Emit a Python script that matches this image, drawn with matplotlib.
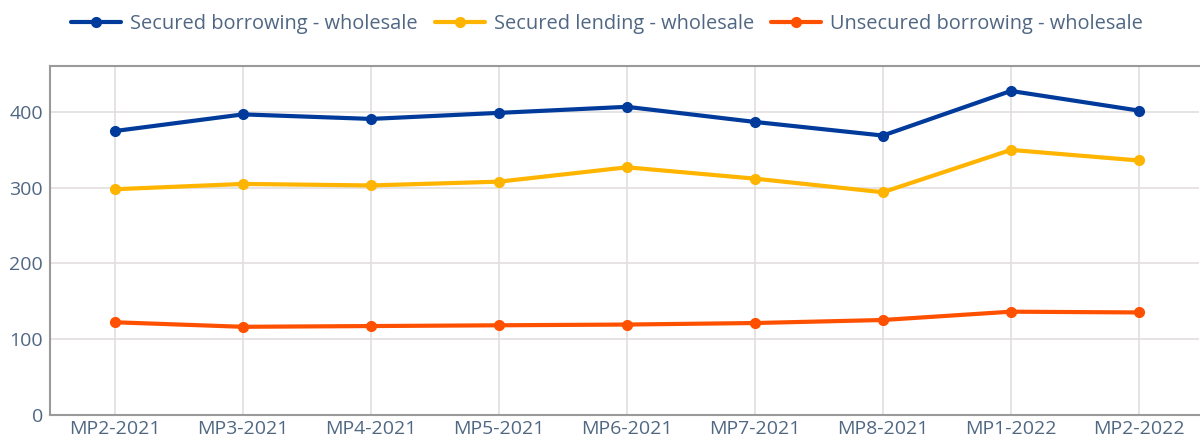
import numpy as np
import matplotlib
matplotlib.use('Agg')
import matplotlib.pyplot as plt

plt.rcParams['font.family'] = ['Open Sans', 'DejaVu Sans']

# data
periods = ['MP2-2021', 'MP3-2021', 'MP4-2021', 'MP5-2021', 'MP6-2021',
           'MP7-2021', 'MP8-2021', 'MP1-2022', 'MP2-2022']
secured_borrowing = [375, 397, 391, 399, 407, 387, 369, 428, 402]
secured_lending = [298, 305, 303, 308, 327, 312, 294, 350, 336]
unsecured_borrowing = [122, 116, 117, 118, 119, 121, 125, 136, 135]

series_names = ['Secured borrowing - wholesale', 'Secured lending - wholesale',
                'Unsecured borrowing - wholesale']
series_colors = ['#003b9c', '#ffb400', '#ff5000']
text_color = '#506784'

fig = plt.figure(figsize=(12, 4.41), dpi=100)
ax = fig.add_axes([50 / 1200, 1 - 414.5 / 441, 1149 / 1200, (414.5 - 66) / 441])

x = np.arange(len(periods))
lines = []
for vals, name, col in zip([secured_borrowing, secured_lending, unsecured_borrowing],
                           series_names, series_colors):
    ln, = ax.plot(x, vals, color=col, lw=3, marker='o', ms=7, label=name,
                  solid_capstyle='round', zorder=3)
    lines.append(ln)

ax.set_xlim(-0.508, 8.47)
ax.set_ylim(0, 461)
ax.set_xticks(x)
ax.set_xticklabels(periods)
ax.set_yticks([0, 100, 200, 300, 400])
ax.tick_params(axis='both', length=0, labelsize=14, colors=text_color)
ax.tick_params(axis='y', pad=5)
ax.tick_params(axis='x', pad=4)
ax.grid(True, color='#e3dede', lw=1.2, zorder=0)
ax.set_axisbelow(True)

for side in ['left', 'bottom', 'top']:
    ax.spines[side].set_color('#9a9a9a')
    ax.spines[side].set_linewidth(1.5)
ax.spines['right'].set_visible(False)

fig.legend(handles=lines, loc='center left', bbox_to_anchor=(71 / 1200, 1 - 24 / 441),
           ncol=3, frameon=False, fontsize=14.4, labelcolor=text_color,
           handlelength=2.5, handletextpad=0.45, columnspacing=0.85,
           borderpad=0, borderaxespad=0)

fig.savefig('out.png', dpi=100, facecolor='white')
